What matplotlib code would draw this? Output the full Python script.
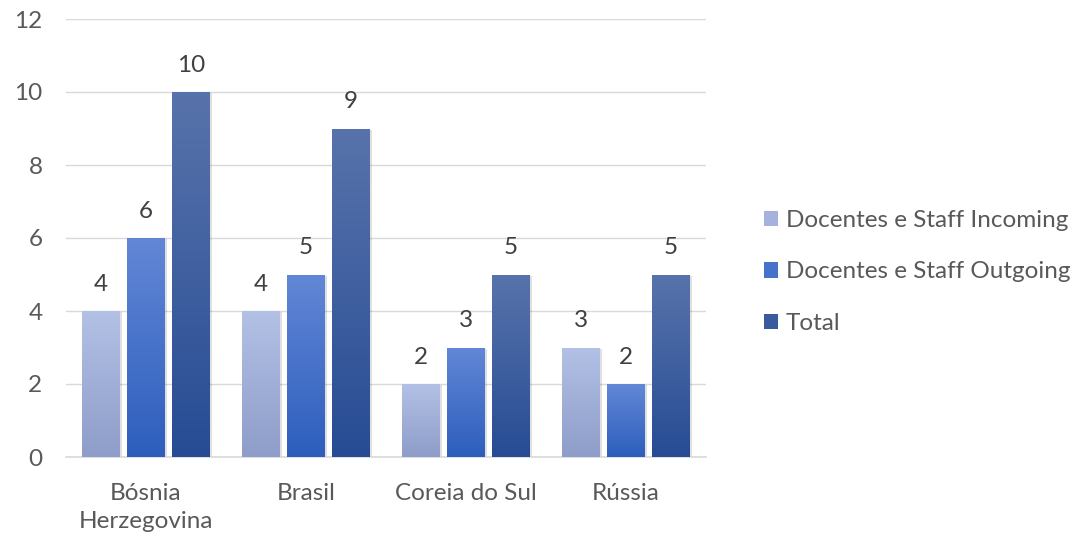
import numpy as np
import matplotlib.pyplot as plt
from matplotlib.colors import LinearSegmentedColormap
from matplotlib.patches import Patch

plt.rcParams['font.family'] = ['Lato', 'DejaVu Sans']

countries = ['Bósnia\nHerzegovina', 'Brasil', 'Coreia do Sul', 'Rússia']
incoming = [4, 4, 2, 3]
outgoing = [6, 5, 3, 2]
total = [10, 9, 5, 5]
series_names = ['Docentes e Staff Incoming', 'Docentes e Staff Outgoing', 'Total']

# top / bottom colours of each gradient fill
grad_colors = [('#b3c1e6', '#8e9dc9'), ('#6287d6', '#2d5ebd'), ('#5873ab', '#274c94')]
legend_colors = ['#a5b3dc', '#4672cc', '#3a5a9e']

FS = 17.5

fig = plt.figure(figsize=(10.75, 5.42), dpi=100)
ax = fig.add_axes([66 / 1075, (542 - 457) / 542, 640 / 1075, (457 - 19) / 542])

x = np.arange(len(countries))
width = 0.235
step = 0.28

for i, (vals, (c_top, c_bot)) in enumerate(zip([incoming, outgoing, total], grad_colors)):
    cmap = LinearSegmentedColormap.from_list(f'g{i}', [c_bot, c_top])
    bars = ax.bar(x + (i - 1) * step, vals, width, color='none', edgecolor='none', zorder=3)
    for b, v in zip(bars, vals):
        x0, y0 = b.get_x(), b.get_y()
        w, h = b.get_width(), b.get_height()
        grad = np.linspace(0, 1, 256).reshape(-1, 1)
        im = ax.imshow(grad, cmap=cmap, origin='lower', aspect='auto',
                       extent=[x0, x0 + w, y0, y0 + h], zorder=3)
        im.set_clip_path(b)
        # soft shadow
        ax.bar(b.get_x() + w / 2 + 0.012, v, w, bottom=-0.03, color='#000000',
               alpha=0.12, zorder=2, edgecolor='none')
        ax.text(b.get_x() + w / 2, v + 0.45, str(v), ha='center', va='bottom',
                fontsize=FS, color='#404040')

ax.set_xlim(-0.5, len(countries) - 0.5)
ax.set_ylim(0, 12)
ax.set_yticks(range(0, 13, 2))
ax.set_xticks(x)
ax.set_xticklabels(countries, linespacing=1.4)
ax.tick_params(axis='both', length=0, labelsize=FS, labelcolor='#595959')
ax.tick_params(axis='y', pad=17)
ax.tick_params(axis='x', pad=19)
ax.grid(axis='y', color='#d9d9d9', linewidth=1, zorder=0)
ax.set_axisbelow(True)
for s in ['top', 'right', 'left']:
    ax.spines[s].set_visible(False)
ax.spines['bottom'].set_color('#d9d9d9')
ax.spines['bottom'].set_linewidth(1.2)

handles = [Patch(facecolor=c, edgecolor='none') for c in legend_colors]
fig.legend(handles, series_names, loc='center left', bbox_to_anchor=(742 / 1075, 1 - 272 / 542),
           frameon=False, fontsize=FS, labelcolor='#595959', handlelength=0.6,
           handleheight=0.6, handletextpad=0.3, labelspacing=1.25)

fig.savefig('out.png', dpi=100)
